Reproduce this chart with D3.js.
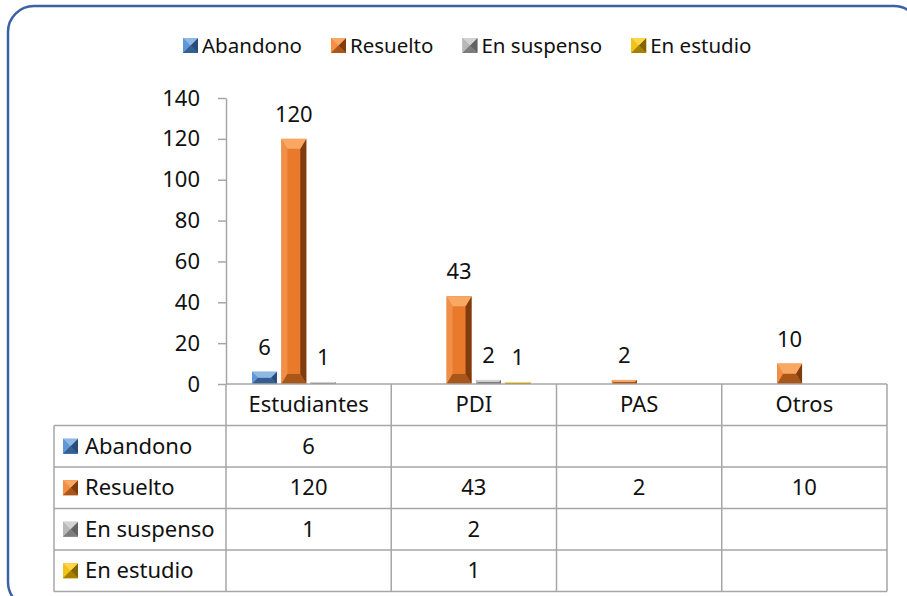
<!DOCTYPE html>
<html>
<head>
<meta charset="utf-8">
<script src="https://cdn.jsdelivr.net/npm/d3@7"></script>
<style>
  body { margin: 0; background: #fff; }
  svg { display: block; font-family: "Noto Sans", "Open Sans", sans-serif; }
</style>
</head>
<body>
<svg id="chart" width="907" height="596"></svg>
<script>
// data
const categories = ["Estudiantes", "PDI", "PAS", "Otros"];
const series = ["Abandono", "Resuelto", "En suspenso", "En estudio"];
const abandono = [6, null, null, null];
const resuelto = [120, 43, 2, 10];
const suspenso = [1, 2, null, null];
const estudio = [null, 1, null, null];
const yTicks = [0, 20, 40, 60, 80, 100, 120, 140];

const values = [abandono, resuelto, suspenso, estudio];

// colours per series: face, top, left, right, bottom
const palette = [
  {face: "#4a86c8", top: "#8fb8e4", left: "#5f98d6", right: "#284b78", bottom: "#345f90"},
  {face: "#e97a2c", top: "#f8a862", left: "#f08f45", right: "#7e3c10", bottom: "#a9561b"},
  {face: "#a6a6a6", top: "#d2d2d2", left: "#b8b8b8", right: "#626262", bottom: "#7c7c7c"},
  {face: "#e2b000", top: "#ffd64a", left: "#f0c21a", right: "#836400", bottom: "#a68000"}
];

const svg = d3.select("#chart");

// outer rounded frame (runs off the right/bottom edge)
svg.append("rect")
  .attr("x", 8).attr("y", 6)
  .attr("width", 912).attr("height", 602)
  .attr("rx", 26)
  .attr("fill", "#fff")
  .attr("stroke", "#3c62a5")
  .attr("stroke-width", 2.5);

const plotLeft = 226, plotRight = 887;
const yTop = 98, yBottom = 384;
const rowH = 41.5;
const tableLeft = 54;

const x0 = d3.scaleBand().domain(categories).range([plotLeft, plotRight]);
const x1 = d3.scaleBand().domain(series).range([26, 139]).paddingInner(0.15);
const y = d3.scaleLinear().domain([0, 140]).range([yBottom, yTop]);

// bevelled bar: a face plus four edge pieces
function bevel(g, x, yy, w, h, c, bx, bt) {
  bx = Math.min(bx, w / 2, h / 2);
  bt = Math.min(bt, h / 2, w / 2);
  g.append("rect").attr("x", x).attr("y", yy).attr("width", w).attr("height", h).attr("fill", c.face);
  const poly = (pts, fill) => g.append("polygon")
    .attr("points", pts.map(p => p.join(",")).join(" ")).attr("fill", fill);
  poly([[x, yy], [x + bx, yy + bt], [x + bx, yy + h - bt], [x, yy + h]], c.left);
  poly([[x + w, yy], [x + w, yy + h], [x + w - bx, yy + h - bt], [x + w - bx, yy + bt]], c.right);
  poly([[x, yy + h], [x + w, yy + h], [x + w - bx, yy + h - bt], [x + bx, yy + h - bt]], c.bottom);
  poly([[x, yy], [x + w, yy], [x + w - bx, yy + bt], [x + bx, yy + bt]], c.top);
}

// y axis
const yAxis = svg.append("g")
  .attr("transform", `translate(${plotLeft},0)`)
  .call(d3.axisLeft(y).tickValues(yTicks).tickSize(8).tickSizeOuter(0).tickPadding(18));
yAxis.select(".domain").attr("stroke", "#a6a6a6").attr("stroke-width", 1.5);
yAxis.selectAll(".tick line").attr("stroke", "#a6a6a6").attr("stroke-width", 1.5);
yAxis.selectAll(".tick text").attr("font-size", 22).attr("fill", "#111")
  .attr("font-family", "\"Noto Sans\", sans-serif");

// bars
const bars = svg.append("g");
series.forEach((s, si) => {
  categories.forEach((cat, ci) => {
    const v = values[si][ci];
    if (v == null) return;
    const bx = x0(cat) + x1(s);
    const top = y(v);
    const h = yBottom - top;
    const g = bars.append("g");
    bevel(g, bx, top, x1.bandwidth(), h, palette[si], 6, 10);
    svg.append("text")
      .attr("x", bx + x1.bandwidth() / 2)
      .attr("y", top - 17)
      .attr("text-anchor", "middle")
      .attr("font-size", 22)
      .attr("fill", "#111")
      .text(v);
  });
});

// data table
const grid = "#a6a6a6";
const table = svg.append("g").attr("stroke", grid).attr("stroke-width", 1.5);
const tableBottom = yBottom + rowH * 5;
// horizontal lines
table.append("line").attr("x1", plotLeft).attr("x2", plotRight).attr("y1", yBottom).attr("y2", yBottom);
for (let r = 1; r <= 5; r++) {
  table.append("line").attr("x1", tableLeft).attr("x2", plotRight)
    .attr("y1", yBottom + rowH * r).attr("y2", yBottom + rowH * r);
}
// vertical lines
table.append("line").attr("x1", tableLeft).attr("x2", tableLeft)
  .attr("y1", yBottom + rowH).attr("y2", tableBottom);
categories.forEach(cat => {
  table.append("line").attr("x1", x0(cat)).attr("x2", x0(cat))
    .attr("y1", yBottom).attr("y2", tableBottom);
});
table.append("line").attr("x1", plotRight).attr("x2", plotRight)
  .attr("y1", yBottom).attr("y2", tableBottom);

// header labels
categories.forEach(cat => {
  svg.append("text")
    .attr("x", x0(cat) + x0.bandwidth() / 2)
    .attr("y", yBottom + rowH / 2)
    .attr("dy", "0.35em")
    .attr("text-anchor", "middle")
    .attr("font-size", 22).attr("fill", "#111")
    .text(cat);
});

// rows
series.forEach((s, si) => {
  const cy = yBottom + rowH * (si + 1) + rowH / 2;
  const ig = svg.append("g");
  bevel(ig, 63, cy - 7.5, 15, 15, palette[si], 7.5, 7.5);
  svg.append("text")
    .attr("x", 85).attr("y", cy).attr("dy", "0.35em")
    .attr("font-size", 22).attr("fill", "#111")
    .text(s);
  categories.forEach((cat, ci) => {
    const v = values[si][ci];
    if (v == null) return;
    svg.append("text")
      .attr("x", x0(cat) + x0.bandwidth() / 2)
      .attr("y", cy).attr("dy", "0.35em")
      .attr("text-anchor", "middle")
      .attr("font-size", 22).attr("fill", "#111")
      .text(v);
  });
});

// legend
const legend = svg.append("g");
let lx = 183;
series.forEach((s, si) => {
  const lg = legend.append("g");
  bevel(lg, lx, 38, 15, 15, palette[si], 7.5, 7.5);
  const t = legend.append("text")
    .attr("x", lx + 19).attr("y", 46).attr("dy", "0.35em")
    .attr("font-size", 20.5).attr("fill", "#111")
    .text(s);
  lx += 19 + t.node().getComputedTextLength() + 29;
});
</script>
</body>
</html>
